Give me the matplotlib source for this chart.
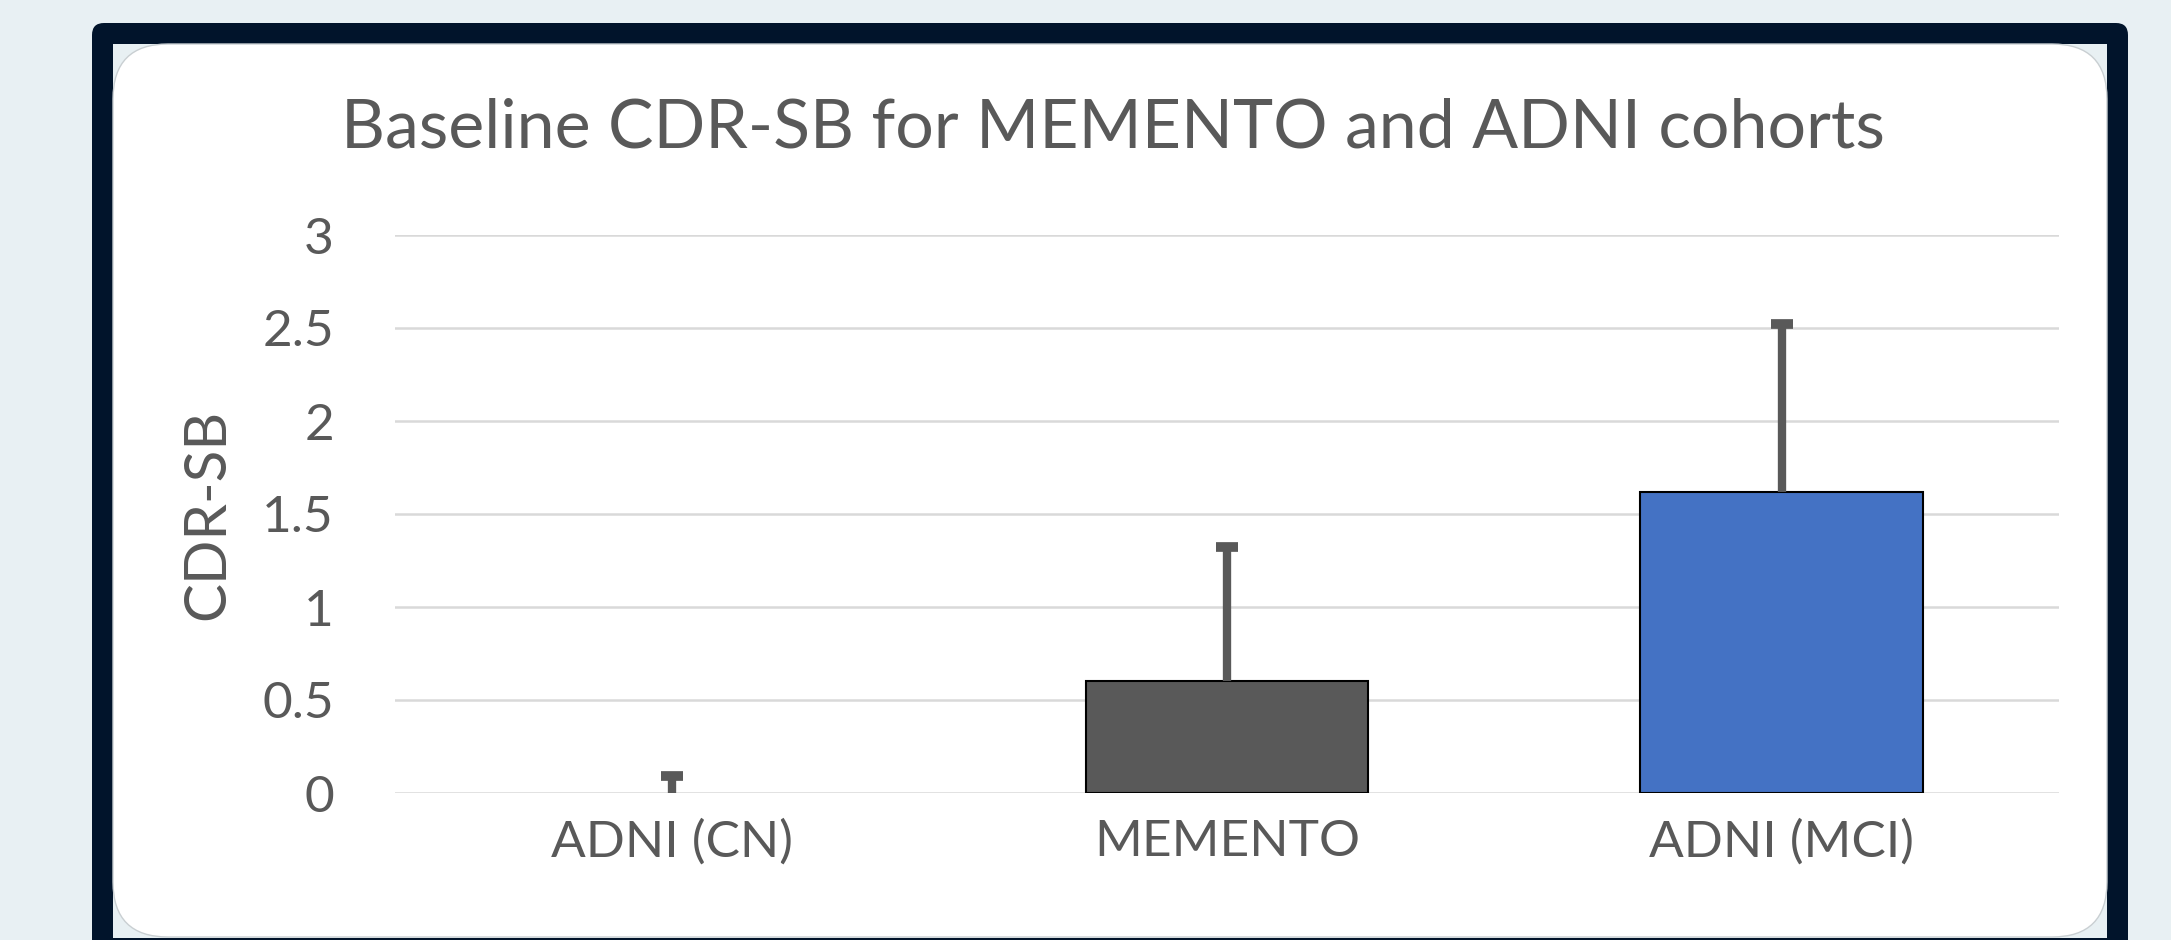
import matplotlib
matplotlib.use("Agg")
import matplotlib.pyplot as plt
from matplotlib.patches import FancyBboxPatch, Rectangle
import numpy as np

plt.rcParams['font.family'] = ['Lato', 'DejaVu Sans']

# data
categories = ['ADNI (CN)', 'MEMENTO', 'ADNI (MCI)']
means = [0.0, 0.60, 1.62]
err_upper = [0.09, 0.72, 0.90]
bar_colors = ['#a5a5a5', '#595959', '#4472C4']
yticks = [0, 0.5, 1, 1.5, 2, 2.5, 3]
ytick_labels = ['0', '0.5', '1', '1.5', '2', '2.5', '3']

title = 'Baseline CDR-SB for MEMENTO and ADNI cohorts'
text_col = '#595959'

W, H = 2171, 940
fig = plt.figure(figsize=(W / 100, H / 100), dpi=100)
fig.patch.set_facecolor('#e8f0f3')

# background frame drawn in pixel units
bg = fig.add_axes([0, 0, 1, 1])
bg.set_xlim(0, W)
bg.set_ylim(H, 0)
bg.axis('off')
bg.add_patch(FancyBboxPatch((92, 23), 2036, 960,
                            boxstyle='round,pad=0,rounding_size=12',
                            fc='#01142b', ec='none'))
bg.add_patch(Rectangle((113, 44), 1994, 894, fc='#e8f0f3', ec='none'))
bg.add_patch(FancyBboxPatch((113, 44), 1994, 893,
                            boxstyle='round,pad=0,rounding_size=55',
                            fc='white', ec='#c9cfd2', lw=1))
bg.text(1113, 147, title, ha='center', va='baseline',
        fontsize=49, color=text_col)
# y axis title
bg.text(208, 514, 'CDR-SB', rotation=90, ha='center', va='center',
        fontsize=42, color=text_col)

# chart area
ax = fig.add_axes([395 / W, (H - 793) / H, 1664 / W, 558 / H])
ax.set_facecolor('none')
x = np.arange(len(categories))
lws = [0 if m == 0 else 1.5 for m in means]
ax.bar(x, means, width=0.51, color=bar_colors, edgecolor='black',
       linewidth=lws, zorder=2)
eb = ax.errorbar(x, means, yerr=[np.zeros(len(means)), err_upper], fmt='none',
                 ecolor='#595959', elinewidth=6, capsize=8, capthick=7, zorder=3)
# only plus-direction error bars: hide the cap sitting on the bar top
for cap in eb[1]:
    if np.allclose(cap.get_ydata(), means):
        cap.set_visible(False)

ax.set_xlim(-0.5, 2.5)
ax.set_ylim(0, 3)
ax.set_yticks(yticks)
ax.set_yticklabels(ytick_labels)
ax.set_xticks(x)
ax.set_xticklabels(categories)
ax.yaxis.grid(True, color='#d9d9d9', lw=1.8, zorder=0)
ax.set_axisbelow(True)
for s in ax.spines.values():
    s.set_visible(False)
ax.tick_params(axis='y', length=0, pad=44, labelsize=37, labelcolor=text_col)
ax.tick_params(axis='x', length=0, pad=19, labelsize=37, labelcolor=text_col)

fig.savefig('out.png', dpi=100, facecolor=fig.get_facecolor())
